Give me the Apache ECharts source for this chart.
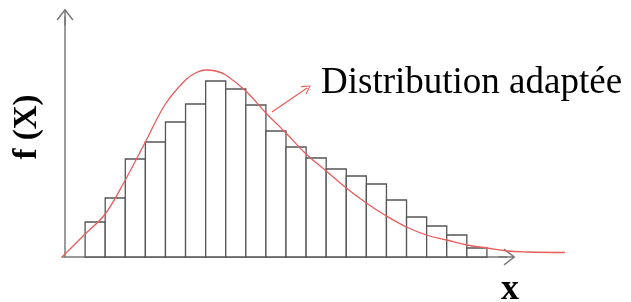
<!DOCTYPE html>
<html>
<head>
<meta charset="utf-8" />
<title>Distribution adaptée</title>
<script src="https://cdn.jsdelivr.net/npm/echarts@6/dist/echarts.min.js"></script>
<style>
  html, body { margin: 0; padding: 0; background: #fff; }
</style>
</head>
<body>
<div id="main" style="width: 631px;height:302px;"></div>
<script type="text/javascript">
// histogram : left edge of each bin (width 1) and its height
var binLeft = [1, 2, 3, 4, 5, 6, 7, 8, 9, 10, 11, 12, 13, 14, 15, 16, 17, 18, 19, 20];
var binHeight = [35, 59, 98, 115, 135, 153, 176, 168, 152, 126, 110, 99, 88, 81, 73, 57, 40, 31, 22, 9];

// fitted curve
var curveX = [-0.15, 1, 2, 3, 4, 5, 6, 6.5, 7, 7.5, 8, 9, 10, 11, 12, 13, 14, 15, 16, 17, 18, 19, 20, 21, 22, 23, 24.9];
var curveY = [0, 23, 43, 77, 115, 153, 177, 184, 187, 186, 182, 166, 144, 124, 103, 86, 69, 54, 41, 30, 22, 17, 12, 9, 6, 5, 4.5];

// annotation arrow (tail, head) in data units
var arrowFrom = [10.3, 145];
var arrowTo = [12.05, 169];

var chevron = 'path://M0,65 L50,0 L100,65 L93,70 L50,14 L7,70 Z M45.5,5 L54.5,5 L54.5,100 L45.5,100 Z';
var head = 'path://M0,70 L50,0 L100,70 L90,75 L50,16 L10,75 Z';

var histData = binLeft.map(function (x, i) { return [x, x + 1, binHeight[i]]; });
var curveData = curveX.map(function (x, i) { return [x, curveY[i]]; });

var myChart = echarts.init(document.getElementById('main'));
var axisLine = {
  show: true,
  symbol: ['none', chevron],
  symbolSize: [17, 20],
  lineStyle: { color: '#7a7a7a', width: 1.5 }
};
var hidden = { show: false };

var option = {
  animation: false,
  title: {
    text: 'Distribution adaptée',
    left: 321,
    top: 65,
    padding: 0,
    textStyle: {
      fontFamily: 'Liberation Serif',
      fontWeight: 'normal',
      fontSize: 37,
      color: '#000'
    }
  },
  grid: [
    { left: 62, right: 124, top: 17, bottom: 45, outerBoundsMode: 'none' },
    // same scale, wider: the fitted curve runs past the end of the x axis
    { left: 62, right: 64, top: 17, bottom: 45, outerBoundsMode: 'none' }
  ],
  xAxis: [{
    type: 'value',
    gridIndex: 0,
    min: -0.15,
    max: 22,
    name: 'x',
    nameLocation: 'end',
    nameGap: -6,
    nameTextStyle: {
      fontFamily: 'Liberation Serif',
      fontWeight: 'bold',
      fontSize: 36,
      color: '#000',
      align: 'left',
      verticalAlign: 'top',
      padding: [15, 0, 0, 0]
    },
    axisLine: axisLine,
    axisTick: hidden,
    axisLabel: hidden,
    splitLine: hidden
  }, {
    type: 'value',
    gridIndex: 1,
    min: -0.15,
    max: 24.99,
    show: false
  }],
  yAxis: [{
    type: 'value',
    gridIndex: 0,
    min: 0,
    max: 240,
    name: 'f (X)',
    nameLocation: 'middle',
    nameGap: 18,
    nameTextStyle: {
      fontFamily: 'Liberation Serif',
      fontWeight: 'bold',
      fontSize: 33,
      color: '#000',
      padding: [0, 0, 0, 20]
    },
    axisLine: axisLine,
    axisTick: hidden,
    axisLabel: hidden,
    splitLine: hidden
  }, {
    type: 'value',
    gridIndex: 1,
    min: 0,
    max: 240,
    show: false
  }],
  series: [
    {
      type: 'custom',
      xAxisIndex: 0,
      yAxisIndex: 0,
      data: histData,
      renderItem: function (params, api) {
        var topLeft = api.coord([api.value(0), api.value(2)]);
        var bottomRight = api.coord([api.value(1), 0]);
        return {
          type: 'rect',
          shape: {
            x: topLeft[0],
            y: topLeft[1],
            width: bottomRight[0] - topLeft[0],
            height: bottomRight[1] - topLeft[1]
          },
          style: { fill: '#fff', stroke: '#555', lineWidth: 1.3 }
        };
      }
    },
    {
      type: 'line',
      xAxisIndex: 1,
      yAxisIndex: 1,
      data: curveData,
      smooth: 0.4,
      clip: false,
      symbol: 'none',
      lineStyle: { color: '#e85c5c', width: 1.3 },
      z: 3,
      markLine: {
        silent: true,
        symbol: ['none', head],
        symbolSize: [10, 9],
        label: { show: false },
        lineStyle: { color: '#e85c5c', width: 1.3, type: 'solid' },
        data: [[{ coord: arrowFrom }, { coord: arrowTo }]]
      }
    }
  ]
};
myChart.setOption(option);
</script>
</body>
</html>
